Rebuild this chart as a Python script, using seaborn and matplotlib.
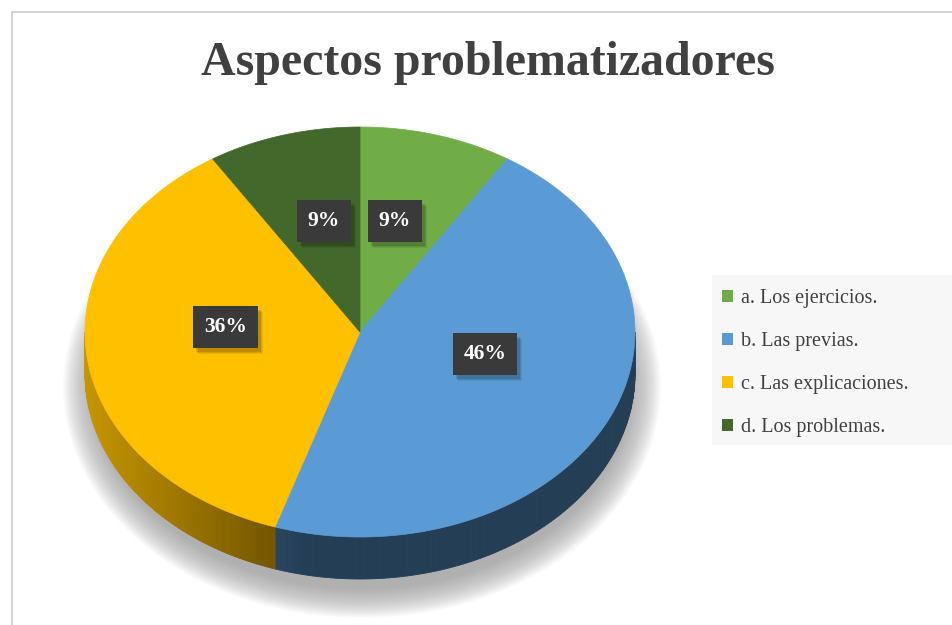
import numpy as np
import matplotlib
matplotlib.use("Agg")
import matplotlib.pyplot as plt
import seaborn as sns
from matplotlib.patches import Polygon, Ellipse, Patch, Rectangle
from matplotlib import colors as mcolors

# ---- data ----
categories = ["a. Los ejercicios.", "b. Las previas.", "c. Las explicaciones.", "d. Los problemas."]
values = [9, 46, 36, 9]
labels = ["9%", "46%", "36%", "9%"]
title = "Aspectos problematizadores"

sns.set_theme(style="white")
palette = sns.color_palette(["#70ad47", "#5b9bd5", "#ffc000", "#43682b"])
plt.rcParams["font.family"] = ["Liberation Serif", "DejaVu Serif"]

W, H = 952, 625
fig = plt.figure(figsize=(W / 100, H / 100), dpi=100)
fig.patch.set_facecolor("white")
ax = fig.add_axes([0, 0, 1, 1])
ax.set_xlim(0, W)
ax.set_ylim(H, 0)
ax.axis("off")

# frame of the chart area
ax.plot([12, 12, W], [H, 12, 12], color="#d4d4d4", lw=1.5, solid_capstyle="butt")

# geometry (layout)
cx, cy, rx, ry, depth = 360, 332, 275, 205, 42

def pt(t, r=1.0, dz=0.0):
    return cx + r * rx * np.cos(t), cy - r * ry * np.sin(t) + dz

# soft shadow
for i in range(30):
    k = i / 29
    ax.add_patch(Ellipse((cx + 2, cy + 55), 2 * (rx + 24 - 32 * k), 2 * (ry + 26 - 30 * k),
                         fc="#9a9a9a", ec="none", alpha=0.04, zorder=1))

# slice angles (clockwise from 12 o'clock)
total = float(sum(values))
angles = []
start = 90.0
for v in values:
    sweep = 360.0 * v / total
    angles.append((start - sweep, start))
    start -= sweep

def norm_range(a0, a1):
    out = []
    for shift in (-360, 0, 360):
        lo, hi = max(a0 + shift, -180), min(a1 + shift, 0)
        if hi > lo:
            out.append((lo, hi))
    return out

def shade(t):
    c = -np.cos(t)
    return 0.40 + 0.38 * np.clip((c - 0.2) / 0.8, 0, 1)

# side walls
for (a0, a1), col in zip(angles, palette):
    base = np.array(mcolors.to_rgb(col))
    for lo, hi in norm_range(a0, a1):
        ts = np.radians(np.linspace(lo, hi, max(2, int(hi - lo) + 1)))
        for j in range(len(ts) - 1):
            t0, t1 = ts[j], ts[j + 1]
            p = [pt(t0), pt(t1), pt(t1, dz=depth), pt(t0, dz=depth)]
            c = np.clip(base * shade((t0 + t1) / 2), 0, 1)
            ax.add_patch(Polygon(p, closed=True, fc=c, ec=c, lw=0.6, zorder=2))

# top surface
for (a0, a1), col in zip(angles, palette):
    ts = np.radians(np.linspace(a1, a0, 200))
    pts = [(cx, cy)] + [pt(t) for t in ts]
    ax.add_patch(Polygon(pts, closed=True, fc=col, ec=col, lw=0.5, zorder=3))

# data labels (layout nudges)
lab_r = [0.556, 0.467, 0.49, 0.557]
lab_dt = [3.0, 12.0, -10.0, -2.6]
label_texts = []
for (a0, a1), lab, r, dt in zip(angles, labels, lab_r, lab_dt):
    tm = np.radians((a0 + a1) / 2 + dt)
    x, y = pt(tm, r)
    t = ax.text(x, y, lab, ha="center", va="center", fontsize=15.5, fontweight="bold",
                color="white", zorder=5,
                bbox=dict(boxstyle="square,pad=0.5", fc="#3a3a3a", ec="none"))
    label_texts.append(t)

# title
ax.text(488, 63, title, ha="center", va="center", fontsize=34.5, fontweight="bold",
        color="#404040", zorder=5)

# legend
ax.add_patch(Rectangle((712, 275), W - 712, 170, fc="#f7f7f7", ec="none", zorder=1))
handles = [Patch(facecolor=c, edgecolor="none") for c in palette]
leg = fig.legend(handles, categories, loc="upper left",
                 bbox_to_anchor=(722 / W, 1 - 289 / H), borderaxespad=0,
                 frameon=False, fontsize=14.5, labelspacing=1.2,
                 handlelength=0.55, handleheight=0.55, handletextpad=0.4,
                 borderpad=0)
for t in leg.get_texts():
    t.set_color("#404040")

# soft shadows behind the label boxes
fig.canvas.draw()
inv = ax.transData.inverted()
for t in label_texts:
    bb = t.get_bbox_patch().get_window_extent()
    (x0, y0), (x1, y1) = inv.transform([(bb.x0, bb.y0), (bb.x1, bb.y1)])
    xl, xr = min(x0, x1), max(x0, x1)
    yt, yb = min(y0, y1), max(y0, y1)
    for ox, oy, al in [(5, 6, 0.07), (4, 5, 0.09), (3, 4, 0.12)]:
        ax.add_patch(Rectangle((xl + ox, yt + oy), xr - xl, yb - yt,
                               fc="black", ec="none", alpha=al, zorder=4))

fig.savefig("out.png", dpi=100, facecolor="white")
